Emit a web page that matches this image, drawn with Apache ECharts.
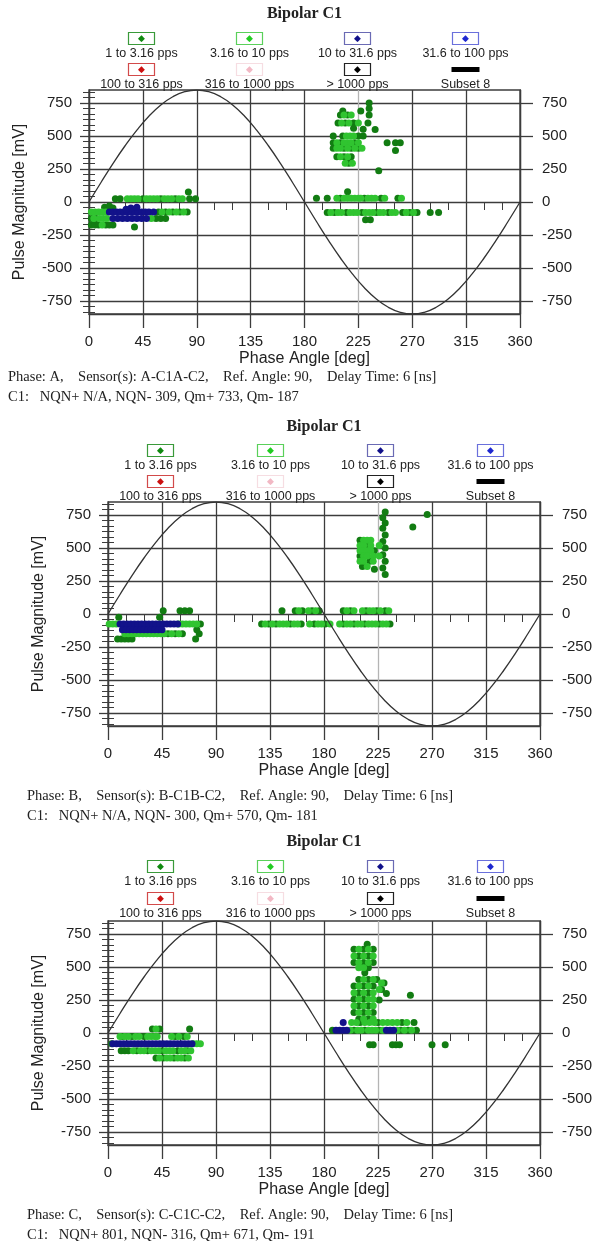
<!DOCTYPE html>
<html>
<head>
<meta charset="utf-8">
<script src="https://cdn.jsdelivr.net/npm/echarts@6/dist/echarts.min.js"></script>
<style>
  html, body { margin: 0; padding: 0; background: #fff; }
  #main { width: 602px; height: 1241px; }
</style>
</head>
<body>
<div id="main"></div>
<script>
// axis ticks
const xTicks = [0, 45, 90, 135, 180, 225, 270, 315, 360];
const yTicks = [-750, -500, -250, 0, 250, 500, 750];

const legendNames = ['1 to 3.16 pps', '3.16 to 10 pps', '10 to 31.6 pps', '31.6 to 100 pps',
  '100 to 316 pps', '316 to 1000 pps', '> 1000 pps', 'Subset 8'];

// reference sine (mV) every 10 deg
const sineDeg = [0,10,20,30,40,50,60,70,80,90,100,110,120,130,140,150,160,170,180,
  190,200,210,220,230,240,250,260,270,280,290,300,310,320,330,340,350,360];
const sineMv = [0,148,291,425,546,651,736,799,837,850,837,799,736,651,546,425,291,148,0,
  -148,-291,-425,-546,-651,-736,-799,-837,-850,-837,-799,-736,-651,-546,-425,-291,-148,0];

// Phase A  [deg, mV]
const aDark = [[22,25],[26,25],[45,25],[60,25],[72,25],[84,25],[89,25],[83,75],
  [13,-40],[17,-30],[20,-45],
  [58,-75],[64,-75],[70,-75],[76,-75],[82,-75],
  [2,-125],[6,-125],[56,-125],[60,-125],[64,-125],
  [2,-175],[5,-175],[8,-175],[14,-175],[17,-175],[20,-175],[38,-190],
  [234,752],[234,710],[212,690],[227,690],[234,660],[216,660],[221,600],[233,600],[229,553],[239,550],
  [212,500],[225,500],[229,500],[204,450],[222,450],[249,450],[256,450],[260,450],
  [204,407],[213,407],[225,407],[256,390],[207,343],[219,343],[217,295],[242,237],
  [208,600],[214,600],[204,500],[210,450],[219,407],[213,343],[221,560],[210,660],
  [216,78],[190,28],[199,28],[210,28],[230,28],[244,28],[258,28],
  [199,-80],[205,-80],[215,-80],[228,-80],[240,-80],[250,-80],[262,-80],[268,-80],[274,-80],
  [231,-135],[235,-135],[285,-80],[292,-80]];
const aLight = [[32,25],[35,25],[38,25],[41,25],[48,25],[51,25],[54,25],[57,25],[63,25],[66,25],[69,25],[75,25],[78,25],
  [2,-75],[5,-75],[8,-75],[11,-75],[14,-75],[61,-75],[67,-75],[73,-75],[79,-75],
  [4,-125],[9,-125],[12,-125],[15,-125],[52,-125],[11,-175],
  [213,660],[219,660],[211,600],[217,600],[225,600],
  [215,500],[218,500],[221,500],[207,450],[213,450],[216,450],[219,450],[225,450],
  [207,407],[210,407],[216,407],[222,407],[228,407],
  [210,343],[216,343],[214,295],[220,295],
  [207,28],[213,28],[216,28],[219,28],[222,28],[225,28],[227,28],[233,28],[236,28],[239,28],[247,28],[261,28],
  [202,-80],[208,-80],[211,-80],[218,-80],[221,-80],[224,-80],[231,-80],[234,-80],[237,-80],[243,-80],
  [246,-80],[253,-80],[256,-80],[265,-80],[271,-80]];
const aNavy = [[17,-75],[20,-75],[23,-75],[26,-75],[29,-75],[32,-75],[35,-75],[38,-75],[41,-75],[44,-75],[47,-75],[50,-75],[54,-75],
  [20,-125],[24,-125],[28,-125],[32,-125],[36,-125],[40,-125],[44,-125],[48,-125],
  [35,-45],[40,-40],[31,-55]];

// Phase B
const bDark = [[9,-25],[43,-25],[46,25],[60,25],[64,25],[68,25],
  [8,-190],[11,-190],[14,-190],[17,-190],[20,-190],[73,-190],[76,-150],[74,-120],[77,-75],
  [50,-150],[56,-150],[62,-150],
  [145,25],[156,25],[162,25],[170,25],[176,25],[196,25],[202,25],[215,25],[224,25],[231,25],
  [128,-75],[134,-75],[140,-75],[152,-75],[161,-75],[172,-75],[181,-75],[196,-75],[205,-75],[214,-75],[226,-75],[235,-75],
  [231,775],[229,730],[231,690],[229,650],[231,600],[229,550],[231,500],[229,450],[231,400],[229,350],[231,300],
  [210,560],[216,520],[222,480],[210,440],[218,400],[212,360],[222,340],[254,660],[266,755]];
const bLight = [[1,-75],[4,-75],[7,-75],[59,-75],[62,-75],[65,-75],[68,-75],[71,-75],[74,-75],
  [14,-150],[17,-150],[20,-150],[23,-150],[26,-150],[29,-150],[32,-150],[35,-150],[38,-150],[41,-150],[44,-150],[47,-150],[53,-150],[59,-150],
  [159,25],[167,25],[173,25],[199,25],[205,25],[212,25],[218,25],[221,25],[227,25],[234,25],
  [131,-75],[137,-75],[143,-75],[146,-75],[149,-75],[155,-75],[158,-75],[168,-75],[175,-75],[178,-75],[185,-75],
  [193,-75],[199,-75],[202,-75],[208,-75],[211,-75],[217,-75],[220,-75],[223,-75],[229,-75],[232,-75],
  [213,560],[216,560],[219,560],[210,520],[213,520],[219,520],[210,480],[213,480],[216,480],[219,480],
  [213,440],[216,440],[221,440],[210,400],[213,400],[221,400],[216,360],[226,520],[226,440]];
const bNavy = [[10,-75],[13,-75],[16,-75],[19,-75],[22,-75],[25,-75],[28,-75],[31,-75],[34,-75],[37,-75],[40,-75],[43,-75],[46,-75],[49,-75],[52,-75],[55,-75],[58,-75],
  [12,-120],[15,-120],[18,-120],[21,-120],[24,-120],[27,-120],[30,-120],[33,-120],[36,-120],[39,-120],[42,-120],[45,-120]];

// Phase C
const cDark = [[37,30],[43,30],[68,30],[11,-135],[14,-135],[17,-135],[24,-135],[33,-135],[45,-135],[58,-135],[66,-135],
  [40,-190],[46,-190],[55,-190],[64,-190],[12,-26],[20,-26],[30,-26],[56,-26],[63,-26],[3,-82],
  [187,20],[205,20],[214,20],[226,20],[244,20],[250,20],[257,20],[210,80],[225,80],[245,80],[255,80],
  [218,-90],[221,-90],[237,-90],[240,-90],[243,-90],[270,-90],[281,-90],
  [216,673],[205,635],[213,635],[221,635],[209,585],[217,585],[205,535],[213,535],[221,535],[217,495],
  [214,457],[209,406],[217,406],[205,356],[213,356],[221,356],[209,306],[217,306],[205,256],[213,256],
  [209,206],[217,206],[205,156],[213,156],[221,156],[209,106],[217,106],
  [224,406],[230,380],[228,330],[232,300],[226,250],[252,287]];
const cLight = [[10,-26],[14,-26],[17,-26],[23,-26],[26,-26],[33,-26],[36,-26],[39,-26],[41,-26],[53,-26],[59,-26],[66,-26],[40,30],
  [71,-82],[74,-82],[77,-82],
  [21,-135],[27,-135],[30,-135],[36,-135],[39,-135],[42,-135],[48,-135],[51,-135],[54,-135],[61,-135],[64,-135],[69,-135],
  [43,-190],[49,-190],[52,-190],[58,-190],[61,-190],[67,-190],
  [202,20],[208,20],[211,20],[217,20],[220,20],[223,20],[229,20],[241,20],[247,20],[253,20],
  [203,80],[207,80],[214,80],[218,80],[222,80],[229,80],[233,80],[237,80],[241,80],[249,80],
  [209,635],[217,635],[205,585],[213,585],[221,585],[209,535],[217,535],[209,495],[213,495],
  [213,406],[221,406],[209,356],[217,356],[205,306],[213,306],[221,306],[209,256],[217,256],[221,256],
  [205,206],[213,206],[221,206],[209,156],[217,156],[213,106],[221,106],[228,380],[226,330]];
const cNavy = [[4,-82],[7,-82],[10,-82],[13,-82],[16,-82],[19,-82],[22,-82],[25,-82],[28,-82],[31,-82],[34,-82],[37,-82],
  [40,-82],[43,-82],[46,-82],[49,-82],[52,-82],[55,-82],[58,-82],[61,-82],[64,-82],[67,-82],[70,-82],
  [190,20],[193,20],[196,20],[199,20],[232,20],[235,20],[238,20],[196,80]];

const footA = ['Phase: A,    Sensor(s): A-C1A-C2,    Ref. Angle: 90,    Delay Time: 6 [ns]',
  'C1:   NQN+ N/A, NQN- 309, Qm+ 733, Qm- 187'];
const footB = ['Phase: B,    Sensor(s): B-C1B-C2,    Ref. Angle: 90,    Delay Time: 6 [ns]',
  'C1:   NQN+ N/A, NQN- 300, Qm+ 570, Qm- 181'];
const footC = ['Phase: C,    Sensor(s): C-C1C-C2,    Ref. Angle: 90,    Delay Time: 6 [ns]',
  'C1:   NQN+ 801, NQN- 316, Qm+ 671, Qm- 191'];

// layout of the three stacked panels
const panels = [
  { left: 89, top: 90, width: 431, titleTop: 6, leg: [31, 62], legLeft: 85, pitch: 108, footLeft: 8, footTop: 367,
    dark: aDark, light: aLight, navy: aNavy, foot: footA },
  { left: 108, top: 502, width: 432, titleTop: 419, leg: [443, 474], legLeft: 103, pitch: 110, footLeft: 27, footTop: 786,
    dark: bDark, light: bLight, navy: bNavy, foot: footB },
  { left: 108, top: 921, width: 432, titleTop: 834, leg: [859, 891], legLeft: 103, pitch: 110, footLeft: 27, footTop: 1205,
    dark: cDark, light: cLight, navy: cNavy, foot: footC }
];
const plotH = 224;

const colDark = '#127c12', colLight = '#30c430', colNavy = '#12128a';
const legendFill = ['#108a10', '#22cc22', '#10108a', '#1e28d0', '#cc1010', '#f2b8c4', '#000'];
const legendBox = ['#3a9a3a', '#5ad05a', '#6a6ab4', '#6a70dc', '#d24a4a', '#f6dde2', '#222'];
const gridCol = '#3c3c3c';

const minorY = [];
for (let v = -833.3; v < 850; v += 250 / 6) minorY.push(Math.round(v * 10) / 10);

const axisFont = { fontFamily: 'Liberation Sans', fontSize: 15, color: '#222' };

const option = {
  animation: false,
  backgroundColor: '#fff',
  title: [], legend: [], grid: [], xAxis: [], yAxis: [], series: []
};

panels.forEach((p, i) => {
  option.title.push({
    text: 'Bipolar C1', left: p.left + p.width / 2, top: p.titleTop, textAlign: 'center', padding: 0,
    textStyle: { fontFamily: 'Liberation Serif', fontSize: 16, fontWeight: 'bold', color: '#222' }
  });
  option.title.push({
    text: p.foot.join('\n'), left: p.footLeft, top: p.footTop, padding: 0,
    textStyle: { fontFamily: 'Liberation Serif', fontSize: 14.5, fontWeight: 'normal', color: '#222', lineHeight: 20 }
  });

  const rich = {
    t: { width: p.pitch - 5, align: 'center', lineHeight: 16, fontSize: 12.5, color: '#222', fontFamily: 'Liberation Sans' },
    k7: { width: 28, height: 5, lineHeight: 15, backgroundColor: '#000', align: 'center', fontSize: 1 }
  };
  for (let k = 0; k < 7; k++) {
    rich['k' + k] = { width: 26, height: 12, lineHeight: 15, borderColor: legendBox[k], borderWidth: 1.2,
      align: 'center', color: legendFill[k], fontSize: 9, fontFamily: 'DejaVu Sans' };
  }
  [0, 1].forEach(r => {
    option.legend.push({
      data: legendNames.slice(r * 4, r * 4 + 4),
      left: p.legLeft, top: p.leg[r], padding: 0, itemGap: 0,
      icon: 'rect', itemWidth: 0, itemHeight: 31, selectedMode: false,
      itemStyle: { opacity: 0 }, lineStyle: { opacity: 0 },
      formatter: name => {
        const k = legendNames.indexOf(name);
        return '{k' + k + '|' + (k < 7 ? '◆' : ' ') + '}\n{t|' + name + '}';
      },
      textStyle: { rich: rich }
    });
  });

  option.grid.push({ left: p.left, top: p.top, width: p.width, height: plotH, show: true,
    borderColor: gridCol, borderWidth: 1.3, containLabel: false });

  option.xAxis.push({
    gridIndex: i, type: 'value', min: 0, max: 360, interval: 45,
    name: 'Phase Angle [deg]', nameLocation: 'middle', nameGap: 37,
    nameTextStyle: { fontFamily: 'Liberation Sans', fontSize: 16, color: '#222' },
    axisLine: { show: true, onZero: false, lineStyle: { color: gridCol, width: 1.3 } },
    axisTick: { show: true, length: 14, lineStyle: { color: gridCol, width: 1.3 } },
    axisLabel: Object.assign({ margin: 20, customValues: xTicks }, axisFont),
    splitLine: { show: true, lineStyle: { width: 1.3,
      color: [gridCol, gridCol, gridCol, gridCol, gridCol, '#b4b4b4', gridCol, gridCol, gridCol] } }
  });
  option.xAxis.push({
    gridIndex: i, type: 'value', min: 0, max: 360, interval: 15,
    axisLine: { show: false }, axisLabel: { show: false }, splitLine: { show: false },
    axisTick: { show: true, inside: true, length: 8, lineStyle: { color: gridCol, width: 1 } }
  });

  const yBase = {
    gridIndex: i, type: 'value', min: -850, max: 850,
    axisLine: { show: true, onZero: false, lineStyle: { color: gridCol, width: 1.3 } }
  };
  option.yAxis.push(Object.assign({}, yBase, {
    position: 'left', name: 'Pulse Magnitude [mV]', nameLocation: 'middle', nameGap: 61,
    nameTextStyle: { fontFamily: 'Liberation Sans', fontSize: 16, color: '#222' },
    axisTick: { show: true, length: 9, customValues: yTicks, lineStyle: { color: gridCol, width: 1.3 } },
    axisLabel: Object.assign({ margin: 17, customValues: yTicks }, axisFont),
    splitLine: { show: true, lineStyle: { color: gridCol, width: 1.3 } }
  }));
  option.yAxis.push(Object.assign({}, yBase, {
    position: 'right',
    axisTick: { show: true, length: 13, customValues: yTicks, lineStyle: { color: gridCol, width: 1.3 } },
    axisLabel: Object.assign({ margin: 22, customValues: yTicks }, axisFont),
    splitLine: { show: false }
  }));
  ['left', 'right'].forEach(pos => {
    option.yAxis.push(Object.assign({}, yBase, {
      position: pos, axisLine: { show: false }, axisLabel: { show: false }, splitLine: { show: false },
      axisTick: { show: true, inside: true, length: 6, customValues: minorY, lineStyle: { color: gridCol, width: 1 } }
    }));
  });

  const xi = i * 2, yi = i * 4;
  const scat = (name, data, color) => ({
    name: name, type: 'scatter', xAxisIndex: xi, yAxisIndex: yi, data: data,
    symbol: 'circle', symbolSize: 7, itemStyle: { color: color, opacity: 1 }
  });
  option.series.push(scat(legendNames[0], p.dark, colDark));
  option.series.push(scat(legendNames[1], p.light, colLight));
  option.series.push(scat(legendNames[2], p.navy, colNavy));
  option.series.push(scat(legendNames[3], [], legendFill[3]));
  option.series.push(scat(legendNames[4], [], legendFill[4]));
  option.series.push(scat(legendNames[5], [], legendFill[5]));
  option.series.push(scat(legendNames[6], [], legendFill[6]));
  option.series.push({
    name: legendNames[7], type: 'line', xAxisIndex: xi, yAxisIndex: yi,
    data: sineDeg.map((d, k) => [d, sineMv[k]]), smooth: true, showSymbol: false, z: 5,
    lineStyle: { color: '#333', width: 1.3 }, itemStyle: { color: '#000' }
  });
});

const chart = echarts.init(document.getElementById('main'), null, { renderer: 'canvas' });
chart.setOption(option);
</script>
</body>
</html>
